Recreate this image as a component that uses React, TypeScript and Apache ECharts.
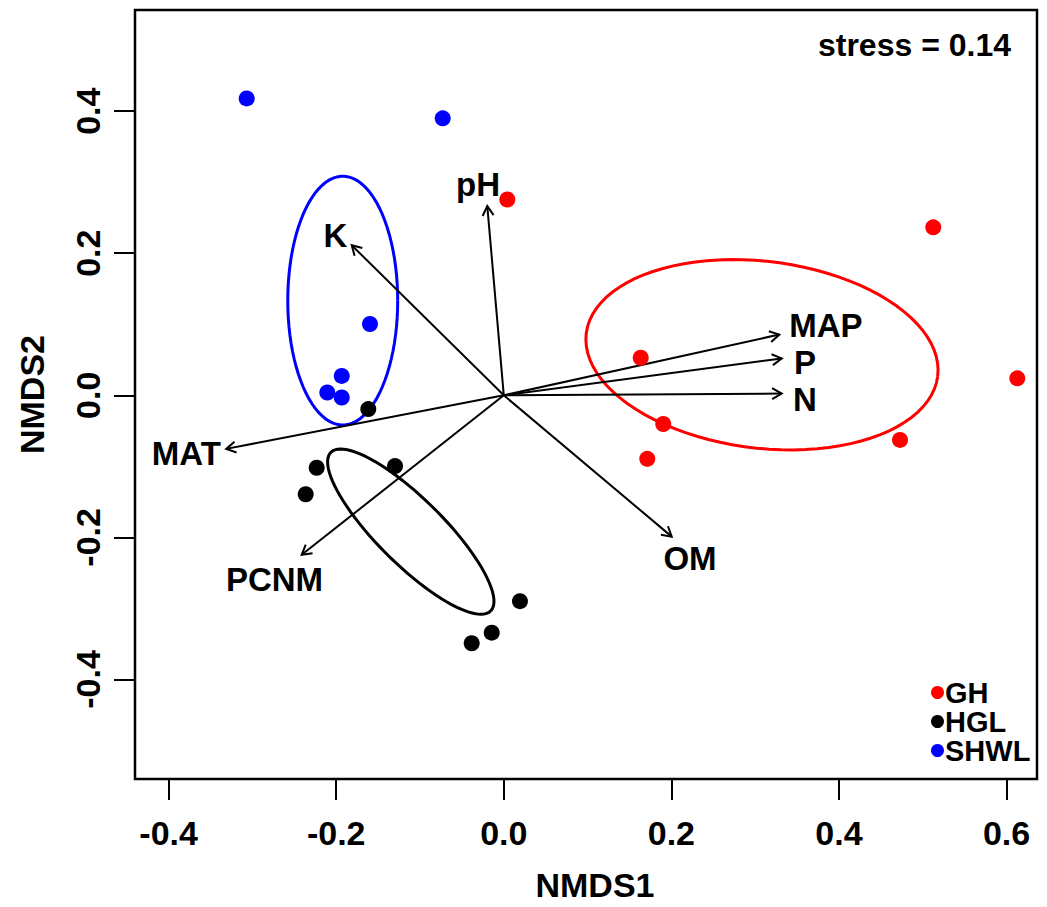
import { useEffect, useRef } from "react";
import * as echarts from "echarts";

const FONT = '"Liberation Sans", Arial, Helvetica, sans-serif';

const groupNames = ["GH", "HGL", "SHWL"];
const groupColors = ["#ff0000", "#000000", "#0000ff"];

// site scores [NMDS1, NMDS2]
const ghPoints = [
  [0.5125, 0.2365],
  [0.1634, 0.0529],
  [0.6128, 0.0239],
  [0.1903, -0.0404],
  [0.4728, -0.0628],
  [0.1712, -0.0894],
  [0.0042, 0.2757],
];
const hglPoints = [
  [-0.1617, -0.0194],
  [-0.2233, -0.102],
  [-0.2364, -0.1392],
  [-0.1298, -0.0996],
  [0.0193, -0.2898],
  [-0.0144, -0.3341],
  [-0.0383, -0.349],
];
const shwlPoints = [
  [-0.3068, 0.4179],
  [-0.0729, 0.3899],
  [-0.1597, 0.1004],
  [-0.1934, 0.0273],
  [-0.2106, 0.0039],
  [-0.1934, -0.0031],
];

// ellipses: centre x, centre y, semi-diameter u (x, y), conjugate semi-diameter v (x, y)
const ghEllipse = [0.3081, 0.0571, 0.2097, -0.0302, -0.0137, -0.1305];
const hglEllipse = [-0.111, -0.1919, 0.0953, -0.1117, -0.0278, -0.0326];
const shwlEllipse = [-0.1922, 0.1333, 0.0656, 0, 0, 0.1751];

// environmental vectors
const vectorNames = ["pH", "K", "MAT", "PCNM", "OM", "MAP", "P", "N"];
const vectorX = [-0.0197, -0.1815, -0.3313, -0.2412, 0.2004, 0.3288, 0.3316, 0.3316];
const vectorY = [0.2664, 0.2113, -0.0754, -0.2245, -0.1989, 0.0855, 0.0519, 0.0025];
const labelX = [-0.0308, -0.2009, -0.3789, -0.2736, 0.2222, 0.3843, 0.3594, 0.3594];
const labelY = [0.2962, 0.2254, -0.0824, -0.2594, -0.2292, 0.0987, 0.0459, -0.0055];

const xTicks = [-0.4, -0.2, 0, 0.2, 0.4, 0.6];
const yTicks = [-0.4, -0.2, 0, 0.2, 0.4];
const xMin = -0.4401;
const xMax = 0.6363;
const yMin = -0.5401;
const yMax = 0.5424;
const stressText = "stress = 0.14";

function ellipseSeries(params: number[], color: string) {
  return {
    type: "custom",
    coordinateSystem: "cartesian2d",
    silent: true,
    data: [params],
    renderItem: (_p: any, api: any) => {
      const cx = api.value(0);
      const cy = api.value(1);
      const ux = api.value(2);
      const uy = api.value(3);
      const vx = api.value(4);
      const vy = api.value(5);
      const pts: number[][] = [];
      const n = 90;
      for (let k = 0; k <= n; k++) {
        const t = (k / n) * Math.PI * 2;
        pts.push(
          api.coord([
            cx + ux * Math.cos(t) + vx * Math.sin(t),
            cy + uy * Math.cos(t) + vy * Math.sin(t),
          ])
        );
      }
      return {
        type: "polyline",
        shape: { points: pts },
        style: { stroke: color, lineWidth: 3, fill: "none" },
      };
    },
  };
}

export default function App() {
  const ref = useRef<HTMLDivElement>(null);

  useEffect(() => {
    if (!ref.current) return;
    const chart = echarts.init(ref.current, undefined, { renderer: "svg" });

    const vectorData = vectorNames.map((_, i) => [vectorX[i], vectorY[i], labelX[i], labelY[i]]);

    const scatter = (idx: number, data: number[][]) => ({
      name: groupNames[idx],
      type: "scatter",
      data,
      symbol: "circle",
      symbolSize: 16,
      itemStyle: { color: groupColors[idx], opacity: 1 },
      emphasis: { disabled: true },
    });

    const option: any = {
      animation: false,
      backgroundColor: "#ffffff",
      grid: {
        left: 135,
        top: 10,
        width: 902,
        height: 774,
        show: true,
        borderColor: "#000",
        borderWidth: 2.5,
        backgroundColor: "transparent",
      },
      xAxis: {
        type: "value",
        min: xMin,
        max: xMax,
        name: "NMDS1",
        nameLocation: "middle",
        nameGap: 89,
        nameTextStyle: {
          fontFamily: FONT,
          fontWeight: "bold",
          fontSize: 34,
          color: "#000",
          padding: [0, 0, 0, 18],
        },
        axisLine: { show: false, onZero: false },
        splitLine: { show: false },
        axisTick: {
          show: true,
          inside: false,
          length: 21,
          customValues: xTicks,
          lineStyle: { color: "#000", width: 2 },
        },
        axisLabel: {
          customValues: xTicks,
          margin: 54,
          verticalAlign: "middle",
          fontFamily: FONT,
          fontWeight: "bold",
          fontSize: 34,
          color: "#000",
          formatter: (v: number) => v.toFixed(1),
        },
      },
      yAxis: {
        type: "value",
        min: yMin,
        max: yMax,
        name: "NMDS2",
        nameLocation: "middle",
        nameGap: 86,
        nameRotate: 90,
        nameTextStyle: {
          fontFamily: FONT,
          fontWeight: "bold",
          fontSize: 34,
          color: "#000",
        },
        axisLine: { show: false, onZero: false },
        splitLine: { show: false },
        axisTick: {
          show: true,
          inside: false,
          length: 21,
          customValues: yTicks,
          lineStyle: { color: "#000", width: 2 },
        },
        axisLabel: {
          customValues: yTicks,
          rotate: 90,
          margin: 47,
          align: "center",
          verticalAlign: "middle",
          fontFamily: FONT,
          fontWeight: "bold",
          fontSize: 34,
          color: "#000",
          formatter: (v: number) => v.toFixed(1),
        },
      },
      legend: {
        data: groupNames,
        orient: "vertical",
        left: 926,
        top: 673,
        itemWidth: 13,
        itemHeight: 13,
        itemGap: 0,
        icon: "circle",
        selectedMode: false,
        itemStyle: { opacity: 1 },
        textStyle: {
          fontFamily: FONT,
          fontWeight: "bold",
          fontSize: 29,
          color: "#000",
          padding: [0, 0, 0, -4],
        },
      },
      graphic: [
        {
          type: "text",
          x: 1011,
          y: 45,
          style: {
            text: stressText,
            fill: "#000",
            font: `bold 32px ${FONT}`,
            align: "right",
            verticalAlign: "middle",
          },
        },
      ],
      series: [
        scatter(0, ghPoints),
        scatter(1, hglPoints),
        scatter(2, shwlPoints),
        ellipseSeries(ghEllipse, groupColors[0]),
        ellipseSeries(hglEllipse, groupColors[1]),
        ellipseSeries(shwlEllipse, groupColors[2]),
        {
          type: "custom",
          coordinateSystem: "cartesian2d",
          silent: true,
          data: vectorData,
          renderItem: (params: any, api: any) => {
            const i = params.dataIndex;
            const o = api.coord([0, 0]);
            const t = api.coord([api.value(0), api.value(1)]);
            const l = api.coord([api.value(2), api.value(3)]);
            const ang = Math.atan2(t[1] - o[1], t[0] - o[0]);
            const h = 11;
            const a = Math.PI / 6;
            const p1 = [t[0] - h * Math.cos(ang - a), t[1] - h * Math.sin(ang - a)];
            const p2 = [t[0] - h * Math.cos(ang + a), t[1] - h * Math.sin(ang + a)];
            return {
              type: "group",
              children: [
                {
                  type: "line",
                  shape: { x1: o[0], y1: o[1], x2: t[0], y2: t[1] },
                  style: { stroke: "#000", lineWidth: 2 },
                },
                {
                  type: "polyline",
                  shape: { points: [p1, t, p2] },
                  style: { stroke: "#000", lineWidth: 2, fill: "none" },
                },
                {
                  type: "text",
                  x: l[0],
                  y: l[1],
                  style: {
                    text: vectorNames[i],
                    fill: "#000",
                    font: `bold 33px ${FONT}`,
                    align: "center",
                    verticalAlign: "middle",
                  },
                },
              ],
            };
          },
        },
      ],
    };

    chart.setOption(option);
    return () => {
      chart.dispose();
    };
  }, []);

  return (
    <div
      ref={ref}
      style={{ position: "absolute", left: 0, top: 0, width: 1047, height: 907, background: "#fff" }}
    />
  );
}
